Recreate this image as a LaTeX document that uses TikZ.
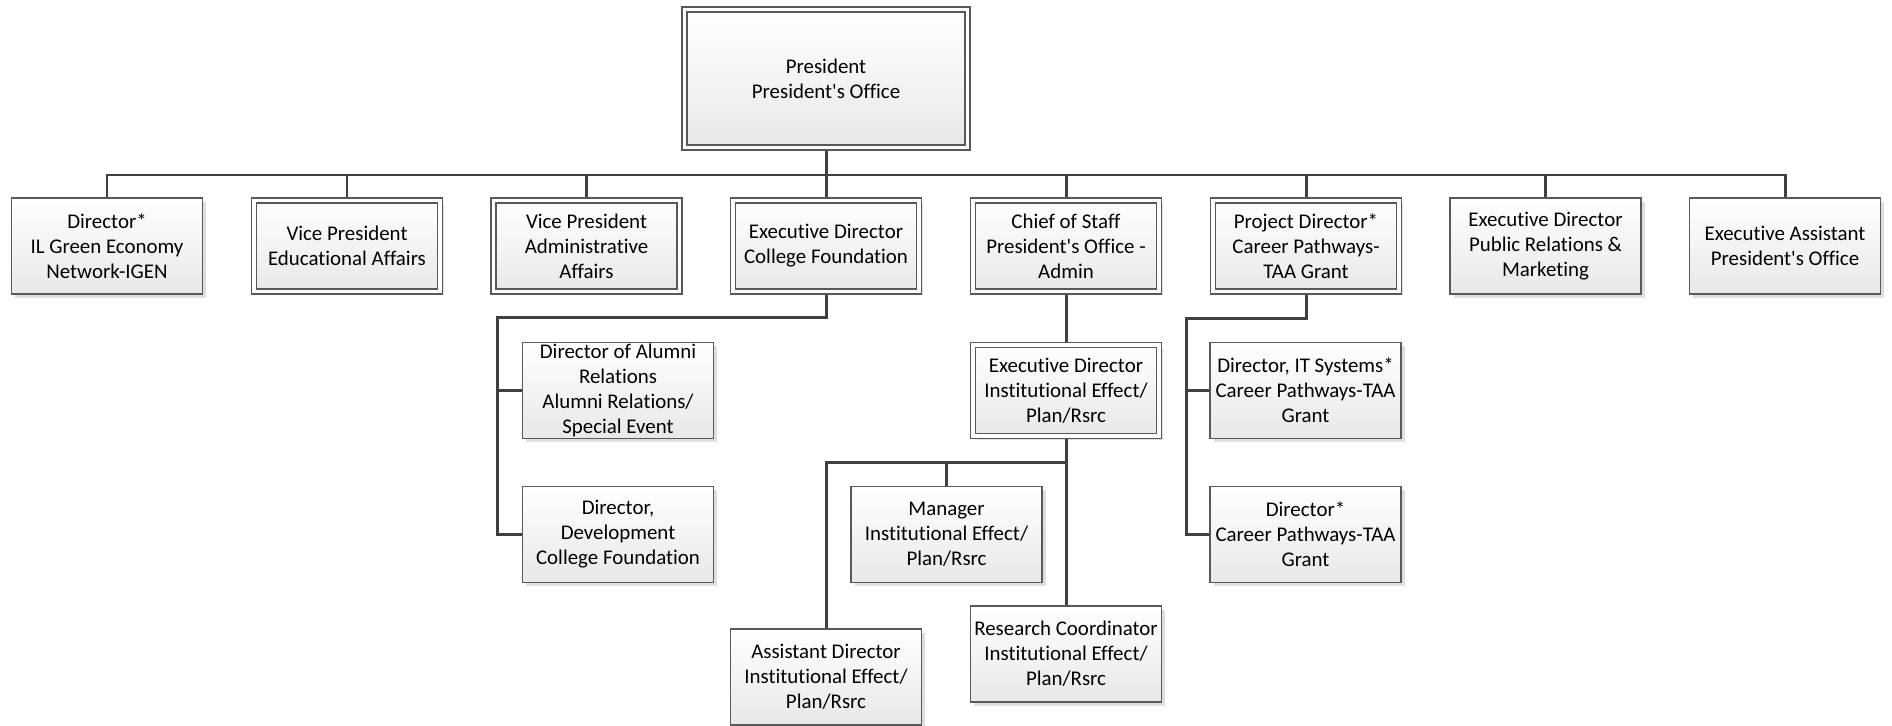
\documentclass[tikz,border=0pt]{standalone}
\usepackage{fontspec}
\setmainfont[Ligatures={TeXOff,CommonOff}]{Carlito}
\usetikzlibrary{shadows}

\begin{document}
\begin{tikzpicture}[x=0.02cm,y=-0.02cm,
  box/.style={draw=black!65,line width=.7pt,top color=white,bottom color=black!9,minimum width=3.82cm,minimum height=1.92cm,inner sep=0pt,align=center,font=\fontsize{11.9}{14.2}\selectfont,drop shadow={shadow xshift=2.2pt,shadow yshift=-2.2pt,fill=black!13,opacity=1}},
  dbox/.style={box,double=white,double distance=2.1pt,minimum width=3.72cm,minimum height=1.82cm,outer sep=1.8pt},
  conn/.style={draw=black!75,line width=1.7pt}]
\useasboundingbox (0,0) rectangle (1892,726);
\node[dbox,minimum width=5.66cm,minimum height=2.76cm] (pres) at (826,78.5) {President\\President's Office};
\node[box] (igen) at (107,246) {Director*\\IL Green Economy\\Network-IGEN};
\node[dbox] (vped) at (347,246) {Vice President\\Educational Affairs};
\node[dbox] (vpad) at (586.5,246) {Vice President\\Administrative\\Affairs};
\node[dbox] (found) at (826,246) {Executive Director\\College Foundation};
\node[dbox] (staff) at (1066,246) {Chief of Staff\\President's Office -\\Admin};
\node[dbox] (taa) at (1306,246) {Project Director*\\Career Pathways-\\TAA Grant};
\node[box] (pr) at (1545.5,246) {Executive Director\\Public Relations \&\\Marketing};
\node[box] (assist) at (1785,246) {Executive Assistant\\President's Office};
\node[box,inner ysep=-1pt] (alumni) at (618,390.5) {Director of Alumni\\Relations\\Alumni Relations/\\Special Event};
\node[box] (devel) at (618,534.5) {Director,\\Development\\College Foundation};
\node[dbox] (ie) at (1066,390.5) {Executive Director\\Institutional Effect/\\Plan/Rsrc};
\node[box] (mgr) at (946.5,534.5) {Manager\\Institutional Effect/\\Plan/Rsrc};
\node[box] (resc) at (1066,654) {Research Coordinator\\Institutional Effect/\\Plan/Rsrc};
\node[box] (asstdir) at (826,677) {Assistant Director\\Institutional Effect/\\Plan/Rsrc};
\node[box] (itsys) at (1305.5,390.5) {Director, IT Systems*\\Career Pathways-TAA\\Grant};
\node[box] (taadir) at (1305.5,534.5) {Director*\\Career Pathways-TAA\\Grant};
\coordinate (bus) at (826,175);
\draw[conn] (igen.north) |- (bus) -| (assist.north);
\foreach \n in {pres.south,vped.north,vpad.north,found.north,staff.north,taa.north,pr.north}
  \draw[conn] (\n) -- (\n |- bus);
\draw[conn] (found.south) -- ++(0,23) -| ([xshift=-.48cm]devel.west) -- (devel.west);
\draw[conn] ([xshift=-.48cm]alumni.west) -- (alumni.west);
\draw[conn] (staff.south) -- (ie.north);
\draw[conn] (ie.south) -- (resc.north);
\draw[conn] (ie.south) ++(0,23) -| (asstdir.north);
\draw[conn] (mgr.north) -- ++(0,-25);
\draw[conn] (taa.south) -- ++(0,24) -| ([xshift=-.46cm]taadir.west) -- (taadir.west);
\draw[conn] ([xshift=-.46cm]itsys.west) -- (itsys.west);
\end{tikzpicture}
\end{document}
